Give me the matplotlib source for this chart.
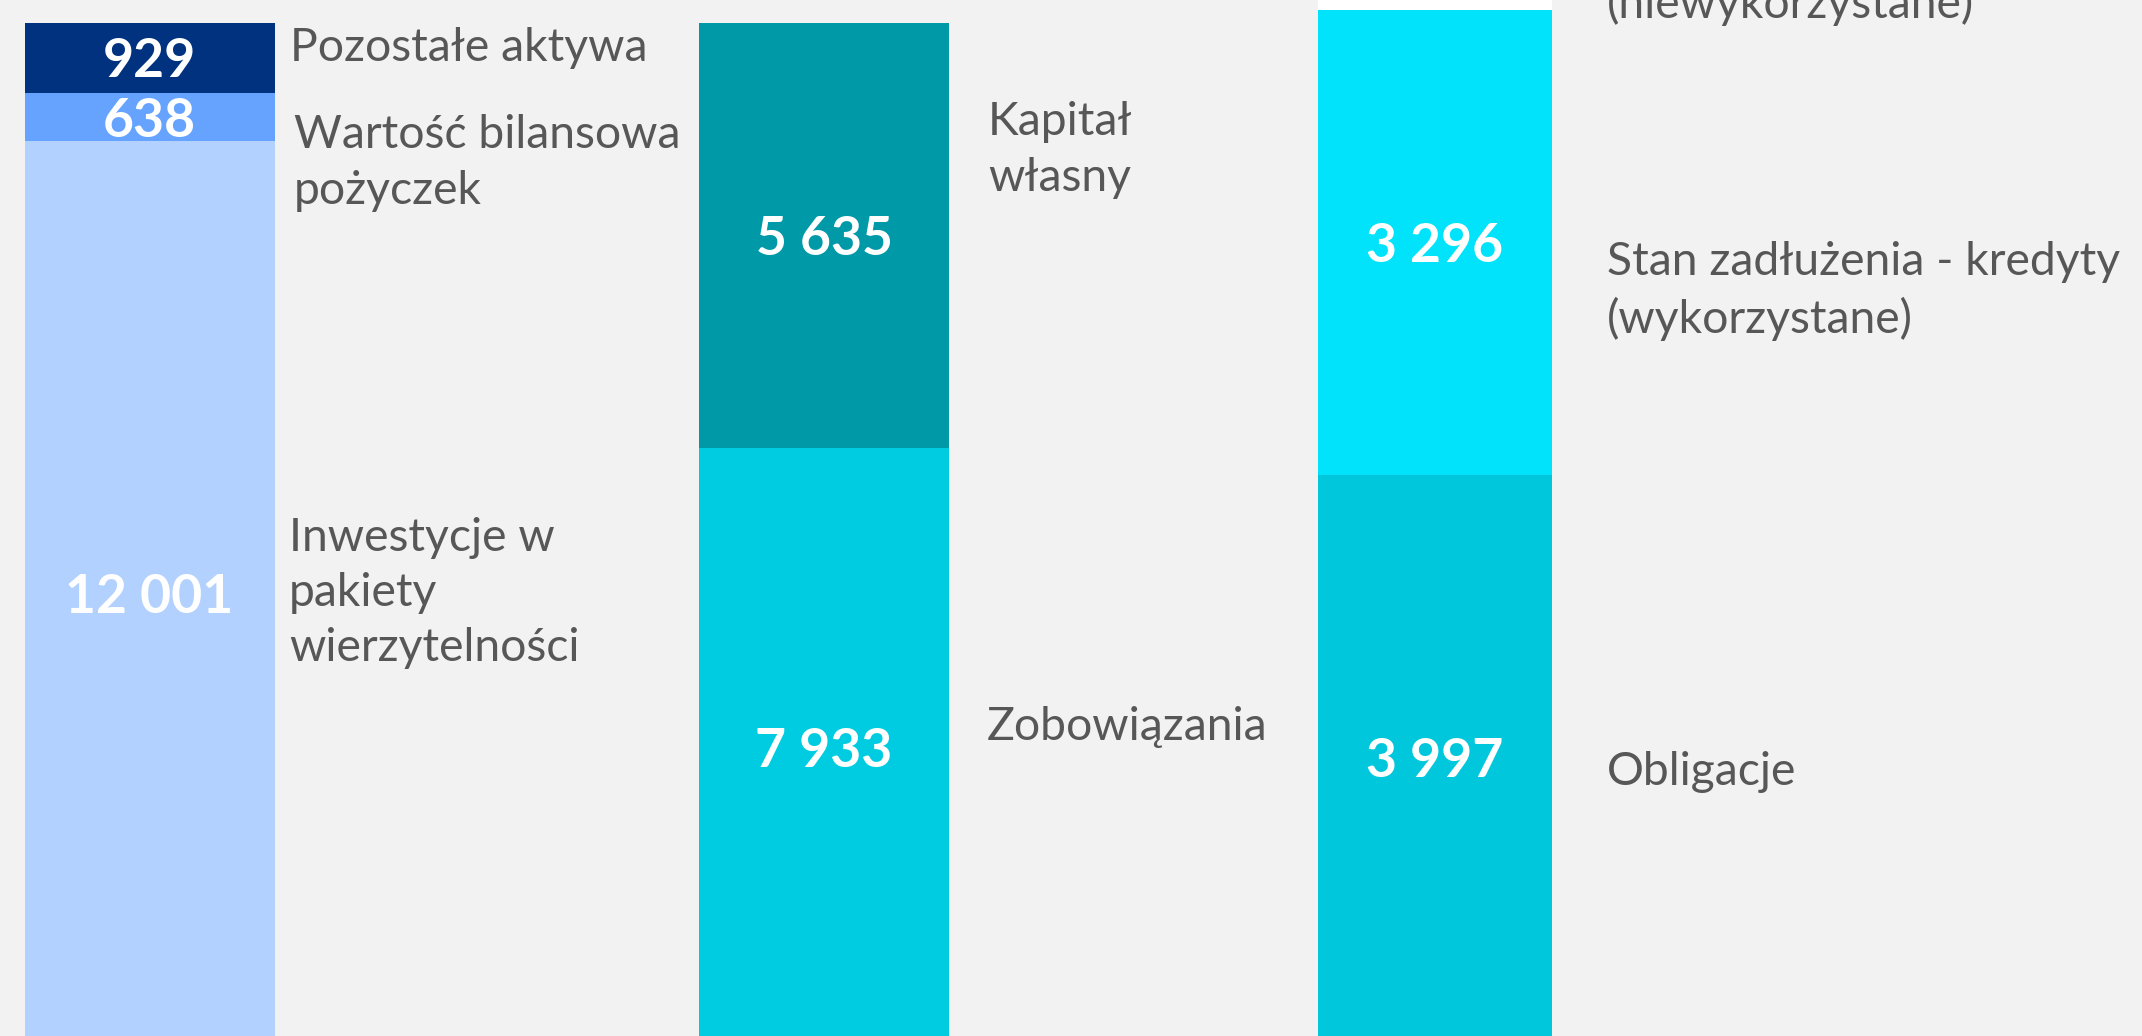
import matplotlib
matplotlib.use("Agg")
import matplotlib.pyplot as plt
from matplotlib.transforms import offset_copy

# ---- data ----
assets_labels = ["Inwestycje w\npakiety\nwierzytelności", "Wartość bilansowa\npożyczek", "Pozostałe aktywa"]
assets_values = [12001, 638, 929]
liab_labels = ["Zobowiązania", "Kapitał\nwłasny"]
liab_values = [7933, 5635]
debt_labels = ["Obligacje", "Stan zadłużenia - kredyty\n(wykorzystane)", "Stan zadłużenia - kredyty\n(niewykorzystane)"]
debt_values = [3997, 3296, 2000]

assets_colors = ["#B3D1FF", "#66A3FF", "#01327F"]
liab_colors = ["#00CCE1", "#0099A8"]
debt_colors = ["#00C7DB", "#00E3FA", "#FFFFFF"]

W, H = 2142, 1036
BG = "#F2F2F2"
TXT = "#575757"
FONT = "Lato"
NUM_FS = 38.5
LAB_FS = 33.3

fig = plt.figure(figsize=(W / 100, H / 100), dpi=100, facecolor=BG)
ax = fig.add_axes([0, 0, 1, 1])
ax.set_facecolor(BG)
ax2 = ax.twinx()
ax.set_xlim(0, W)
ax.set_ylim(148, 13875)
ax2.set_ylim(26, 7361)
for a in (ax, ax2):
    a.axis("off")


def stack(axis, xc, width, values, colors):
    tr = offset_copy(axis.transData, fig=fig, y=-0.358 * NUM_FS, units="points")
    bottom = 0
    for v, c in zip(values, colors):
        axis.bar(xc, v, width=width, bottom=bottom, color=c, linewidth=0)
        if c.upper() != "#FFFFFF":
            axis.text(xc, bottom + v / 2, f"{v:,}".replace(",", " "),
                      ha="center", va="baseline", color="white", transform=tr,
                      fontsize=NUM_FS, fontweight="bold", family=FONT)
        bottom += v


stack(ax, 149.6, 250, assets_values, assets_colors)
stack(ax, 824, 250, liab_values, liab_colors)
stack(ax2, 1435, 234, debt_values, debt_colors)

# label positions (pixels from left, pixels from top: visual center)
label_pos = {
    "Pozostałe aktywa": (290, 48),
    "Wartość bilansowa\npożyczek": (294, 163),
    "Inwestycje w\npakiety\nwierzytelności": (289, 593),
    "Kapitał\nwłasny": (988, 150),
    "Zobowiązania": (987, 727),
    "Stan zadłużenia - kredyty\n(wykorzystane)": (1607, 291),
    "Obligacje": (1607, 772),
    "Stan zadłużenia - kredyty\n(niewykorzystane)": (1607, -24),
}
for lab in assets_labels + liab_labels + debt_labels:
    px, py = label_pos[lab]
    fig.text(px / W, 1 - py / H, lab, ha="left", va="center", color=TXT,
             fontsize=LAB_FS, fontweight="normal", family=FONT, linespacing=1.39)

fig.savefig("out.png", dpi=100, facecolor=BG)
